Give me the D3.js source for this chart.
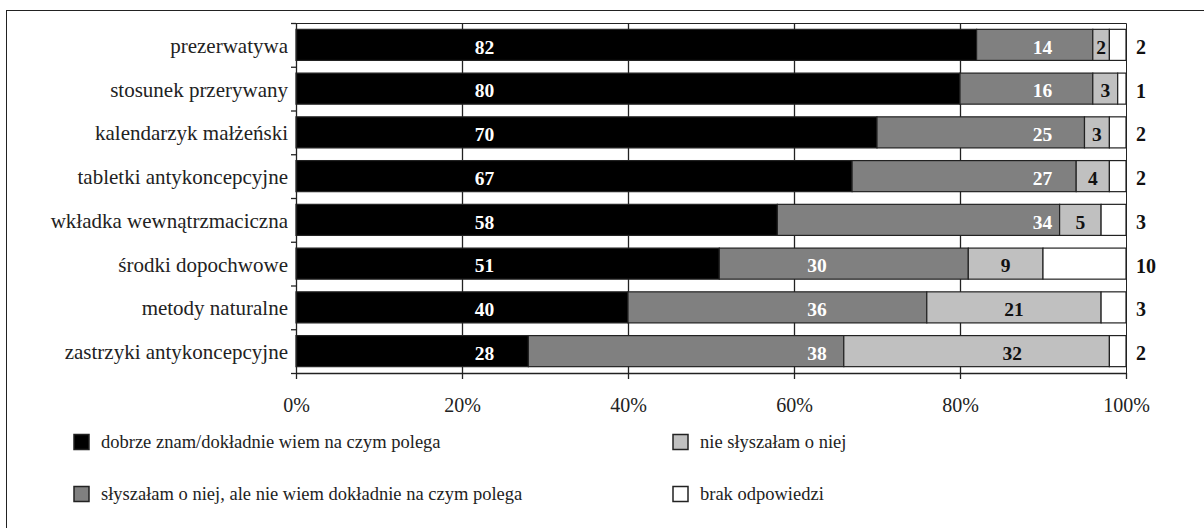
<!DOCTYPE html>
<html>
<head>
<meta charset="utf-8">
<script src="https://cdn.jsdelivr.net/npm/d3@7"></script>
<style>
  body { margin: 0; background: #fff; }
  #graphic text { font-family: "Liberation Serif", Tinos, "Times New Roman", "DejaVu Serif", serif !important; }
</style>
</head>
<body>
<svg id="graphic" width="1204" height="528"></svg>
<script>
// categories, top to bottom
let categories = [
    "prezerwatywa",
    "stosunek przerywany",
    "kalendarzyk małżeński",
    "tabletki antykoncepcyjne",
    "wkładka wewnątrzmaciczna",
    "środki dopochwowe",
    "metody naturalne",
    "zastrzyki antykoncepcyjne"
];

// percentages per answer
let knowWell = [82, 80, 70, 67, 58, 51, 40, 28];
let heardOf = [14, 16, 25, 27, 34, 30, 36, 38];
let neverHeard = [2, 3, 3, 4, 5, 9, 21, 32];
let noAnswer = [2, 1, 2, 2, 3, 10, 3, 2];

let seriesNames = [
    "dobrze znam/dokładnie wiem na czym polega",
    "słyszałam o niej, ale nie wiem dokładnie na czym polega",
    "nie słyszałam o niej",
    "brak odpowiedzi"
];

let xTicks = [0, 20, 40, 60, 80, 100];

let colors = ["#000000", "#808080", "#c0c0c0", "#ffffff"];

let svg = d3.select('#graphic');

// outer frame
svg.append('rect')
    .attr('x', 6.5).attr('y', 10.5)
    .attr('width', 1400).attr('height', 700)
    .attr('fill', 'none').attr('stroke', '#222');

let xScale = d3.scaleLinear()
    .domain([0, 100])
    .range([296, 1126]);

let yScale = d3.scaleBand()
    .domain(categories)
    .range([23, 373])
    .paddingInner(0.29)
    .paddingOuter(0.145);

// plot area border (top, right)
svg.append('path')
    .attr('d', `M${xScale(0)},23.5H${xScale(100) + 0.5}V373`)
    .attr('fill', 'none').attr('stroke', '#222');

// vertical gridlines
svg.append('g')
    .selectAll('line')
    .data(xTicks.slice(1, -1))
    .enter()
    .append('line')
    .attr('x1', d => Math.round(xScale(d)) + 0.5)
    .attr('x2', d => Math.round(xScale(d)) + 0.5)
    .attr('y1', 23).attr('y2', 373)
    .attr('stroke', '#222')
    .attr('stroke-width', 1.3);

// stacked rows
let rows = categories.map((c, i) => {
    let vals = [knowWell[i], heardOf[i], neverHeard[i], noAnswer[i]];
    let start = 0;
    return vals.map((v, k) => {
        let seg = { cat: c, row: i, k: k, v: v, x0: start, x1: start + v };
        start += v;
        return seg;
    });
});
let segments = rows.flat();

svg.append('g')
    .selectAll('.data_point')
    .data(segments)
    .enter()
    .append('rect')
    .classed('data_point', true)
    .attr('x', d => xScale(d.x0))
    .attr('y', d => yScale(d.cat))
    .attr('width', d => Math.min(xScale(d.x1), xScale(100)) - xScale(d.x0))
    .attr('height', yScale.bandwidth())
    .attr('fill', d => colors[d.k])
    .attr('stroke', '#222')
    .attr('stroke-width', 1.2);

// label anchors (percent)
let blackLabelAt = 22.7;
let grayLabelPlace = i => i < 5 ? { at: 91.1, anchor: 'end' } : { at: 61.6, anchor: 'start' };
let lightLabelAt = d => d.row === 7 ? 86.3 : (d.x0 + d.x1) / 2;

let labels = svg.append('g')
    .attr('font-weight', 'bold')
    .attr('font-size', '19.5px');

labels.selectAll('.lbl')
    .data(segments)
    .enter()
    .append('text')
    .classed('lbl', true)
    .attr('x', d => {
        if (d.k === 0) return xScale(blackLabelAt);
        if (d.k === 1) return xScale(grayLabelPlace(d.row).at);
        if (d.k === 2) return xScale(lightLabelAt(d));
        return xScale(100) + 10;
    })
    .attr('text-anchor', d => {
        if (d.k === 1) return grayLabelPlace(d.row).anchor;
        if (d.k === 3) return 'start';
        return 'middle';
    })
    .attr('y', d => yScale(d.cat) + yScale.bandwidth() / 2)
    .attr('dy', '0.45em')
    .attr('font-size', d => d.k === 3 ? '20px' : null)
    .attr('fill', d => d.k < 2 ? '#fff' : '#111')
    .text(d => d.v);

// y axis: ticks at band boundaries + category labels
let yEdges = d3.scaleLinear().domain([0, categories.length]).range([23, 373]);
svg.append('g')
    .attr('transform', `translate(${xScale(0)},0)`)
    .call(d3.axisLeft(yEdges).tickValues(d3.range(categories.length + 1)).tickFormat('').tickSize(5).tickSizeOuter(0))
    .call(g => g.selectAll('line, path').attr('stroke', '#222').attr('stroke-width', 1.3));

svg.append('g')
    .attr('transform', `translate(${xScale(0)},0)`)
    .call(d3.axisLeft(yScale).tickSize(0).tickPadding(8))
    .call(g => g.select('.domain').remove())
    .call(g => g.selectAll('text')
        .attr('font-size', '21px')
        .attr('fill', '#222')
        .attr('dy', '0.38em'));

// x axis
svg.append('g')
    .attr('transform', 'translate(0,373)')
    .call(d3.axisBottom(xScale).tickValues(xTicks).tickFormat(d => d + '%').tickSize(6).tickSizeOuter(0).tickPadding(19))
    .call(g => g.selectAll('line, path').attr('stroke', '#222').attr('stroke-width', 1.3))
    .call(g => g.selectAll('text')
        .attr('font-size', '20px')
        .attr('fill', '#222'));

// legend
let legendPos = [
    { x: 74, y: 442 },
    { x: 74, y: 494 },
    { x: 673, y: 442 },
    { x: 673, y: 494 }
];

let legend = svg.append('g')
    .selectAll('g')
    .data(seriesNames)
    .enter()
    .append('g')
    .attr('transform', (d, i) => `translate(${legendPos[i].x},${legendPos[i].y})`);

legend.append('rect')
    .attr('x', 0).attr('y', -7.5)
    .attr('width', 15).attr('height', 15)
    .attr('fill', (d, i) => colors[i])
    .attr('stroke', '#222')
    .attr('stroke-width', 1.5);

legend.append('text')
    .attr('x', 27)
    .attr('dy', '0.33em')
    .attr('font-size', '18.5px')
    .attr('fill', '#222')
    .text(d => d);
</script>
</body>
</html>
